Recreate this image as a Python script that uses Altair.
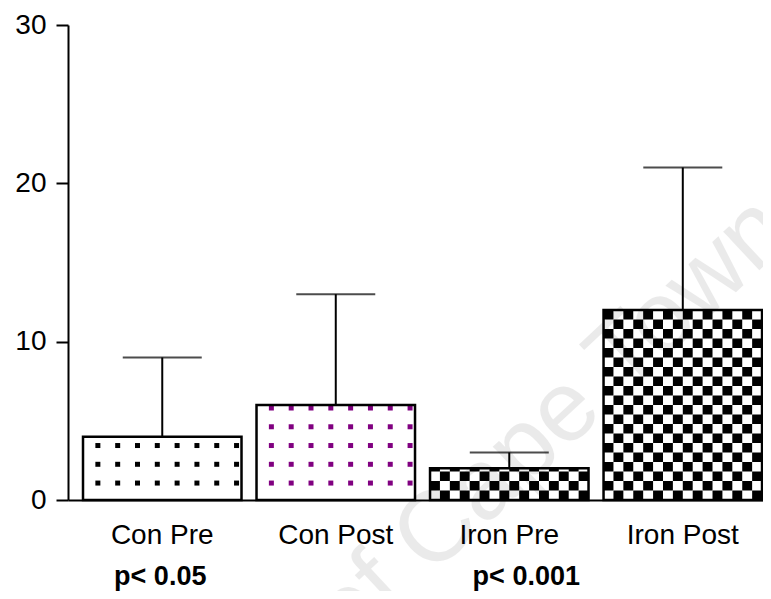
import math
import altair as alt
import pandas as pd

# ---- data ----
categories = ["Con Pre", "Con Post", "Iron Pre", "Iron Post"]
means = [4, 6, 2, 12]
sds = [5, 7, 1, 9]
patterns = ["dots", "dots", "checker", "checker"]
dot_colors = ["#000000", "#800080", "", ""]
p_texts = ["p< 0.05", "p< 0.001"]
p_groups = ["Con Pre", "Iron Pre"]
y_ticks = [0, 10, 20, 30]
watermark = ["University of Cape Town"]

bars_df = pd.DataFrame({
    "group": categories,
    "mean": means,
    "upper": [m + s for m, s in zip(means, sds)],
})

# ---- texture cells (fill patterns) built from the bar values ----
N_COLS = 16
dot_cells, check_cells = [], []
for g, m, pat, col in zip(categories, means, patterns, dot_colors):
    if pat == "dots":
        yv = 1.07
        while yv < m - 0.15:
            for c in range(1, N_COLS, 2):
                dot_cells.append({"group": g, "col": c, "y": yv, "color": col})
            yv += 1.185
    else:
        h = 0.6
        nrows = math.ceil(m / h - 1e-9)
        for r in range(nrows):
            y0, y1 = r * h, min((r + 1) * h, m)
            for c in range(N_COLS):
                if (r + c) % 2 == 1:
                    check_cells.append({"group": g, "col": c, "y0": y0, "y1": y1})
dots_df = pd.DataFrame(dot_cells)
check_df = pd.DataFrame(check_cells)

FONT = "Liberation Sans"

x_enc = alt.X(
    "group:N",
    sort=categories,
    scale=alt.Scale(domain=categories, paddingInner=0.0865, paddingOuter=0.046, align=0.94),
    axis=alt.Axis(
        labelAngle=0, ticks=False, tickSize=0, labelPadding=21, labelFontSize=28,
        labelFont=FONT, labelColor="black", domainColor="black", domainWidth=2,
        grid=False, labelBaseline="top",
    ),
    title=None,
)
y_scale = alt.Scale(domain=[0, 30], nice=False, zero=True)
y_axis = alt.Axis(
    values=y_ticks, tickSize=12, tickWidth=2, tickColor="black", domainWidth=2,
    domainColor="black", labelFontSize=28, labelFont=FONT, labelColor="black",
    labelPadding=10, grid=False,
)
xoff = alt.XOffset("col:O", scale=alt.Scale(domain=list(range(N_COLS)), paddingInner=0, paddingOuter=0))

base = alt.Chart(bars_df)

bar_fill = base.mark_bar(fill="white", stroke=None).encode(
    x=x_enc, y=alt.Y("mean:Q", scale=y_scale, axis=y_axis, title=None)
)

checker = alt.Chart(check_df).mark_rect(fill="black").encode(
    x=alt.X("group:N", sort=categories),
    xOffset=xoff,
    y=alt.Y("y0:Q"),
    y2="y1:Q",
)

dots = alt.Chart(dots_df).mark_square(size=25, opacity=1, filled=True).encode(
    x=alt.X("group:N", sort=categories),
    xOffset=xoff,
    y=alt.Y("y:Q"),
    color=alt.Color("color:N", scale=None),
)

bar_outline = base.mark_bar(fill="white", fillOpacity=0, stroke="black", strokeWidth=2.5).encode(
    x=alt.X("group:N", sort=categories), y="mean:Q"
)

err_line = base.mark_rule(color="black", strokeWidth=2).encode(
    x=alt.X("group:N", sort=categories), y="mean:Q", y2="upper:Q"
)
err_cap = base.mark_tick(color="black", size=79, thickness=2).encode(
    x=alt.X("group:N", sort=categories), y="upper:Q"
)

p_df = pd.DataFrame({"group": p_groups, "label": p_texts})
p1 = alt.Chart(p_df.iloc[[0]]).mark_text(
    font=FONT, fontSize=27, fontWeight="bold", color="black", baseline="alphabetic", dx=-2
).encode(x=alt.X("group:N", sort=categories), y=alt.value(560), text="label:N")
p2 = alt.Chart(p_df.iloc[[1]]).mark_text(
    font=FONT, fontSize=27, fontWeight="bold", color="black", baseline="alphabetic", dx=17
).encode(x=alt.X("group:N", sort=categories), y=alt.value(560), text="label:N")

wm = alt.Chart(pd.DataFrame({"t": watermark})).mark_text(
    font=FONT, fontSize=100, angle=317, align="right", baseline="alphabetic",
    color="black", opacity=0.08,
).encode(x=alt.value(727), y=alt.value(212), text="t:N")

chart = alt.layer(
    bar_fill, checker, dots, bar_outline, err_line, err_cap, p1, p2, wm
).properties(
    width=695, height=475, autosize="none",
    padding={"left": 60, "top": 17, "right": 0, "bottom": 91},
    background="white",
).configure_view(stroke=None)

chart.save("out.html", embed_options={"renderer": "svg", "actions": False})
